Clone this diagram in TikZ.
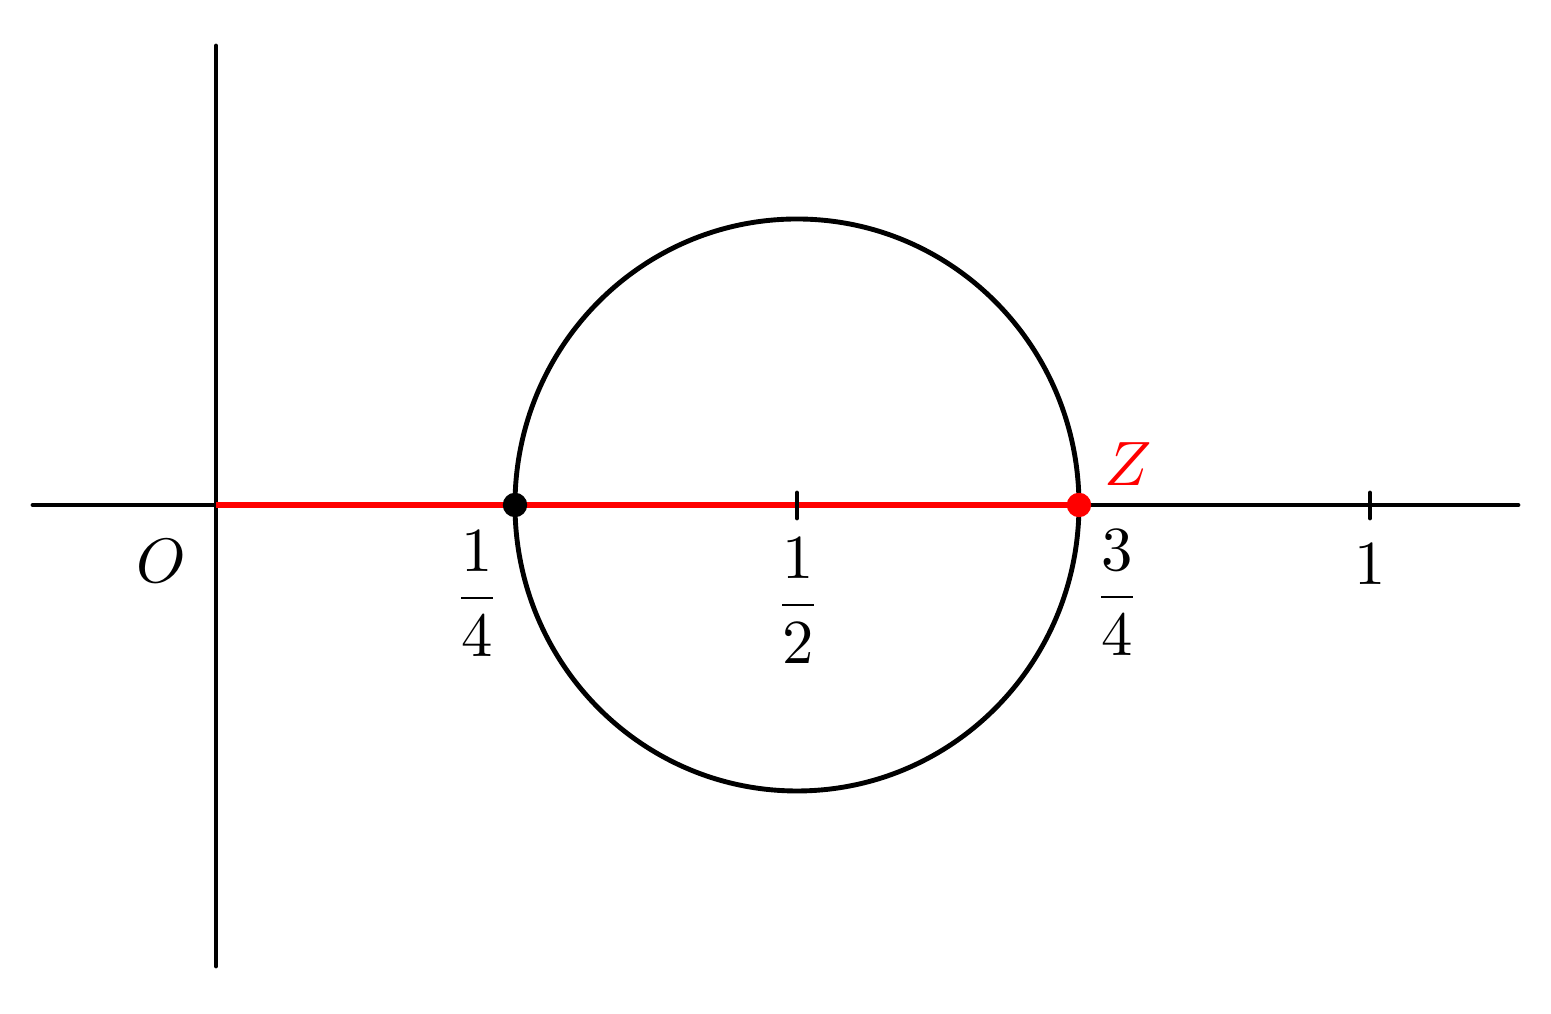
\documentclass[tikz,border=0pt]{standalone}
\usepackage{amsmath}
\begin{document}
\begin{tikzpicture}[x=0.1515pt,y=-0.1515pt,
  axis/.style={line width=0.74pt,line cap=round,black},
  redseg/.style={line width=0.9pt,red},
  lbl/.style={inner sep=0pt,outer sep=0pt,scale=0.95},
  dotb/.style={circle,fill=black,inner sep=0pt,minimum size=3.7pt},
  dotr/.style={circle,fill=red,inner sep=0pt,minimum size=3.7pt}]
\useasboundingbox (0,0) rectangle (1551,1014);
\coordinate (xl) at (33,505);
\coordinate (xr) at (1518,505);
\coordinate (yt) at (216,46);
\coordinate (yb) at (216,966);
\coordinate (o) at (216,505);
\coordinate (c) at (797,505);
\draw[axis] (xl) -- (xr);
\draw[axis] (yt) -- (yb);
\draw[redseg] (o) -- (1079,505);
\draw[axis] (797,493) -- (797,518);
\draw[axis] (1370,493) -- (1370,518);
\draw[line width=0.74pt] (c) ellipse [x radius=282, y radius=286];
\node[dotb] (p1) at (515,505) {};
\node[dotr] (z) at (1079,505) {};
\node[lbl] (lo) at (161,561) {$O$};
\node[lbl] (l14) at (477,594) {$\dfrac{1}{4}$};
\node[lbl] (l12) at (798,601) {$\dfrac{1}{2}$};
\node[lbl] (l34) at (1117,593) {$\dfrac{3}{4}$};
\node[lbl] (l1) at (1370,564) {$1$};
\node[lbl,red] (lz) at (1128,464) {$Z$};
\end{tikzpicture}
\end{document}
